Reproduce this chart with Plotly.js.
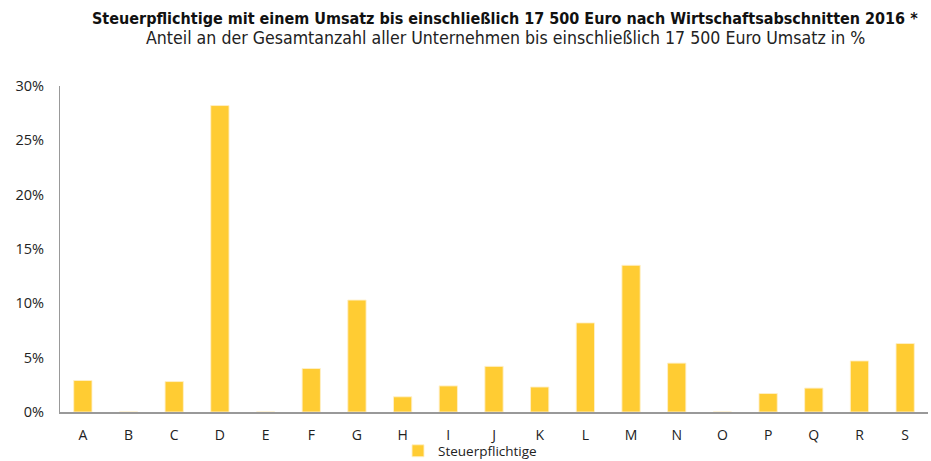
<!DOCTYPE html>
<html>
<head>
<meta charset="utf-8">
<script src="https://cdn.plot.ly/plotly-3.0.1.min.js"></script>
<style>html,body{margin:0;padding:0;background:#fff;}#chart{width:931px;height:461px;}</style>
</head>
<body>
<div id="chart"></div>
<script>
const categories = ['A','B','C','D','E','F','G','H','I','J','K','L','M','N','O','P','Q','R','S'];
const values = [2.9, 0, 2.8, 28.2, 0, 4.0, 10.3, 1.4, 2.4, 4.2, 2.3, 8.2, 13.5, 4.5, 0, 1.7, 2.2, 4.7, 6.3];
const seriesName = 'Steuerpflichtige';
const yTicks = [0, 5, 10, 15, 20, 25, 30];
const yTickLabels = ['0%', '5%', '10%', '15%', '20%', '25%', '30%'];
const titleText = 'Steuerpflichtige mit einem Umsatz bis einschließlich 17 500 Euro nach Wirtschaftsabschnitten 2016 *';
const subtitleText = 'Anteil an der Gesamtanzahl aller Unternehmen bis einschließlich 17 500 Euro Umsatz in %';

const narrow = "'Liberation Sans Narrow', 'DejaVu Sans Condensed', sans-serif";
const font = "'Open Sans', 'Noto Sans', sans-serif";

Plotly.newPlot('chart', [{
  type: 'bar',
  x: categories,
  y: values,
  name: seriesName,
  marker: {color: '#FFCC33', line: {color: 'rgba(255,240,200,0.9)', width: 1}},
  showlegend: true
}], {
  width: 931, height: 461,
  margin: {l: 60, r: 3, t: 86, b: 49},
  paper_bgcolor: '#fff', plot_bgcolor: '#fff',
  font: {family: font, size: 13, color: '#222'},
  bargap: 0.6,
  annotations: [
    {text: '<b>' + titleText + '</b>', xref: 'paper', yref: 'paper', x: (505-60)/868, y: 1 + (86-18)/326,
     xanchor: 'center', yanchor: 'middle', showarrow: false, font: {family: narrow, size: 16, color: '#111'}},
    {text: subtitleText, xref: 'paper', yref: 'paper', x: (505-60)/868, y: 1 + (86-38)/326,
     xanchor: 'center', yanchor: 'middle', showarrow: false, font: {family: narrow, size: 17.6, color: '#222'}}
  ],
  xaxis: {
    type: 'category',
    showline: true, linecolor: '#999', linewidth: 2,
    ticks: 'outside', ticklen: 9, tickcolor: 'rgba(0,0,0,0)',
    showgrid: false, zeroline: false, automargin: false,
    tickfont: {size: 14, color: '#222'}
  },
  yaxis: {
    range: [0, 30],
    tickmode: 'array', tickvals: yTicks, ticktext: yTickLabels,
    showline: true, linecolor: '#999', linewidth: 1,
    ticks: 'outside', ticklen: 12, tickcolor: 'rgba(0,0,0,0)',
    showgrid: false, zeroline: false, automargin: false,
    tickfont: {size: 14.5, color: '#222'}
  },
  legend: {
    orientation: 'h', x: 470/931, xref: 'container', xanchor: 'center',
    y: (461-451)/461, yref: 'container', yanchor: 'middle',
    bgcolor: 'rgba(0,0,0,0)',
    font: {size: 13.5, color: '#222'}, itemwidth: 30
  }
}, {displayModeBar: false, staticPlot: true});
</script>
</body>
</html>
